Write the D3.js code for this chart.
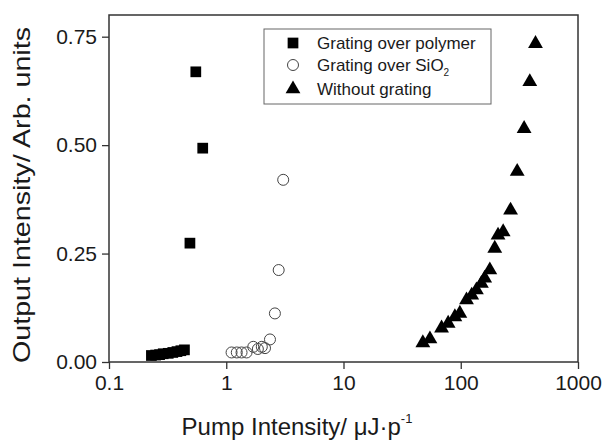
<!DOCTYPE html>
<html>
<head>
<meta charset="utf-8">
<script src="https://cdn.jsdelivr.net/npm/d3@7"></script>
<style>
  body { margin: 0; background: #fff; }
  text { font-family: "Liberation Sans", Arial, sans-serif; fill: #1a1a1a; }
</style>
</head>
<body>
<div id="Chart"></div>
<script>
// data
const polymerX = [0.23, 0.25, 0.27, 0.29, 0.32, 0.35, 0.38, 0.41, 0.44, 0.49, 0.55, 0.63];
const polymerY = [0.015, 0.016, 0.017, 0.019, 0.020, 0.022, 0.024, 0.026, 0.028, 0.274, 0.669, 0.493];

const sio2X = [1.11, 1.23, 1.35, 1.49, 1.70, 1.86, 2.01, 2.14, 2.36, 2.60, 2.80, 3.06];
const sio2Y = [0.022, 0.022, 0.022, 0.022, 0.035, 0.030, 0.035, 0.032, 0.052, 0.112, 0.212, 0.420];

const bareX = [47.5, 54.6, 68.6, 78.1, 89.1, 98.2, 112, 124, 136, 150, 160, 177, 195, 208, 230, 266, 303, 347, 388, 434];
const bareY = [0.044, 0.053, 0.078, 0.089, 0.104, 0.112, 0.143, 0.154, 0.166, 0.181, 0.193, 0.212, 0.262, 0.292, 0.300, 0.350, 0.439, 0.538, 0.646, 0.734];

const xTicks = [0.1, 1, 10, 100, 1000];
const xTickLabels = ["0.1", "1", "10", "100", "1000"];
const yTicks = [0, 0.25, 0.5, 0.75];
const yMinorTicks = [0.125, 0.375, 0.625];
const legendLabels = ["Grating over polymer", "Grating over SiO", "Without grating"];

function drawChart() {
    console.log("drawChart started");

    const width = 603;
    const height = 441;

    const svg = d3.select("#Chart")
        .append("svg")
        .attr("width", width)
        .attr("height", height);

    const x = d3.scaleLog().domain([0.1, 1000]).range([109, 578]);
    const y = d3.scaleLinear().domain([0, 0.8]).range([362, 15]);

    // minor ticks for log axis
    const xMinor = [];
    for (let dec = 0.1; dec < 1000; dec *= 10) {
        for (let k = 2; k <= 9; k++) xMinor.push(+(dec * k).toPrecision(3));
    }

    const axisColor = "#333";

    // x axis
    const gx = svg.append("g").attr("transform", "translate(0,362)");
    gx.call(d3.axisBottom(x).tickValues(xMinor).tickSize(4).tickFormat(""));
    gx.call(d3.axisBottom(x).tickValues(xTicks).tickSize(7).tickPadding(6)
        .tickFormat((d, i) => xTickLabels[i]));
    gx.selectAll("text").attr("font-size", 21).attr("font-family", null);

    // y axis
    const gy = svg.append("g").attr("transform", "translate(109,0)");
    gy.call(d3.axisLeft(y).tickValues(yMinorTicks).tickSize(4).tickFormat(""));
    gy.call(d3.axisLeft(y).tickValues(yTicks).tickSize(7).tickPadding(5)
        .tickFormat(d3.format(".2f")));
    gy.selectAll("text").attr("font-size", 21).attr("font-family", null);

    svg.selectAll(".domain").remove();
    svg.selectAll(".tick line").attr("stroke", axisColor).attr("stroke-width", 1.3);

    // frame
    svg.append("rect")
        .attr("x", x.range()[0])
        .attr("y", y.range()[1])
        .attr("width", x.range()[1] - x.range()[0])
        .attr("height", y.range()[0] - y.range()[1])
        .attr("fill", "none")
        .attr("stroke", axisColor)
        .attr("stroke-width", 1.5);

    // series
    const sq = d3.symbol().type(d3.symbolSquare).size(115);
    const tri = d3.symbol().type(d3.symbolTriangle).size(95);

    svg.append("g")
        .selectAll("path")
        .data(polymerX.map((d, i) => [d, polymerY[i]]))
        .join("path")
        .attr("d", sq)
        .attr("transform", d => `translate(${x(d[0])},${y(d[1])})`)
        .attr("fill", "#000");

    svg.append("g")
        .selectAll("circle")
        .data(sio2X.map((d, i) => [d, sio2Y[i]]))
        .join("circle")
        .attr("cx", d => x(d[0]))
        .attr("cy", d => y(d[1]))
        .attr("r", 5.5)
        .attr("fill", "none")
        .attr("stroke", "#444")
        .attr("stroke-width", 1);

    svg.append("g")
        .selectAll("path")
        .data(bareX.map((d, i) => [d, bareY[i]]))
        .join("path")
        .attr("d", tri)
        .attr("transform", d => `translate(${x(d[0])},${y(d[1])})`)
        .attr("fill", "#000");
    console.log("series drawn");

    // legend
    const legend = svg.append("g");
    legend.append("rect")
        .attr("x", 264).attr("y", 29)
        .attr("width", 227).attr("height", 75)
        .attr("fill", "#fff")
        .attr("stroke", "#666")
        .attr("stroke-width", 1);

    const rows = [43, 65, 89];
    legend.append("path").attr("d", sq).attr("transform", `translate(293,${rows[0]})`).attr("fill", "#000");
    legend.append("circle").attr("cx", 293).attr("cy", rows[1]).attr("r", 5.5)
        .attr("fill", "none").attr("stroke", "#444");
    legend.append("path").attr("d", tri).attr("transform", `translate(293,${rows[2]})`).attr("fill", "#000");

    legendLabels.forEach((lab, i) => {
        const t = legend.append("text")
            .attr("x", 317)
            .attr("y", rows[i] + 6)
            .attr("font-size", 17)
            .text(lab);
        if (i === 1) {
            t.append("tspan").attr("font-size", 10).attr("dy", 5).text("2");
        }
    });

    // axis titles
    const xt = svg.append("text")
        .attr("x", 297)
        .attr("y", 435)
        .attr("text-anchor", "middle")
        .attr("font-size", 24)
        .text("Pump Intensity/ \u03bcJ\u00b7p");
    xt.append("tspan").attr("font-size", 13).attr("dy", -12).text("-1");

    svg.append("text")
        .attr("transform", "translate(30,195) rotate(-90)")
        .attr("text-anchor", "middle")
        .attr("font-size", 24)
        .attr("textLength", 336)
        .attr("lengthAdjust", "spacingAndGlyphs")
        .text("Output Intensity/ Arb. units");

    console.log("chart done");
}

document.addEventListener('DOMContentLoaded', () => {
    drawChart();
});
</script>
</body>
</html>
